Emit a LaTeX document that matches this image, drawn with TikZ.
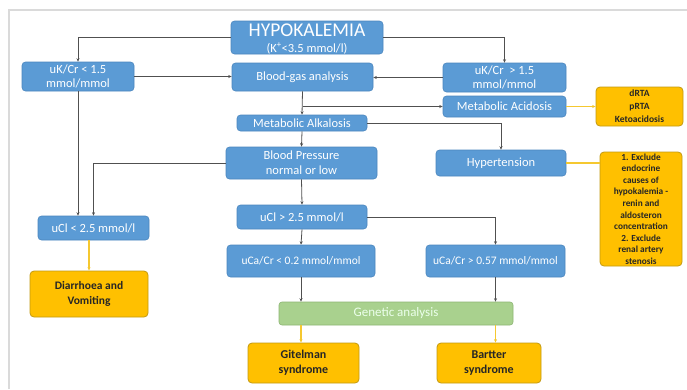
\documentclass[tikz,border=0pt]{standalone}
\usepackage{fontspec}
\setmainfont{Carlito}
\usetikzlibrary{arrows.meta,calc}
\definecolor{bfill}{HTML}{5B9BD5}
\definecolor{bline}{HTML}{4A86BE}
\definecolor{ofill}{HTML}{FFC000}
\definecolor{oline}{HTML}{C39A12}
\definecolor{gfill}{HTML}{A9D18E}
\definecolor{gline}{HTML}{8DB574}
\definecolor{conn}{HTML}{505050}
\definecolor{yconn}{HTML}{F5C830}
\definecolor{frame}{HTML}{DADADA}
\tikzset{
  bbox/.style={draw=bline, line width=0.6pt, fill=bfill, rounded corners=3.5pt, text=white, align=center, inner sep=1pt, font=\fontsize{12.5}{14.5}\selectfont},
  obox/.style={draw=oline, line width=0.8pt, fill=ofill, rounded corners=4pt, text=black!85, align=center, inner sep=1pt, font=\bfseries\fontsize{12}{15}\selectfont},
  gbox/.style={draw=gline, line width=0.6pt, fill=gfill, rounded corners=3pt, text=white!92!green, align=center, inner sep=1pt, font=\fontsize{13}{14}\selectfont},
  arr/.style={draw=conn, line width=0.8pt, -{Stealth[length=3.5pt,width=3pt]}},
  ln/.style={draw=conn, line width=0.8pt},
  yarr/.style={draw=yconn, line width=1.2pt, -{Stealth[length=3.5pt,width=3pt]}},
  yln/.style={draw=yconn, line width=1.2pt},
}
\begin{document}
\begin{tikzpicture}[x=1pt,y=-1pt]
\useasboundingbox (0,0) rectangle (687,389);
\fill[white] (0,0) rectangle (687,389);
\draw[frame, line width=1.5pt] (9,389) -- (9,10) -- (687,10);

\node[bbox, minimum width=152pt, minimum height=33pt] (hypo) at (307,37.5) {};
\node[text=white, font=\fontsize{19.5}{20}\selectfont] at (307,30.5) {HYPOKALEMIA};
\node[text=white, font=\fontsize{12.5}{13}\selectfont] at (307,48.5) {(K\textsuperscript{+}<3.5 mmol/l)};

\node[bbox, minimum width=141pt, minimum height=28pt] (bga) at (302.5,77) {Blood-gas analysis};
\node[bbox, minimum width=130pt, minimum height=16pt] (alk) at (302,123) {Metabolic Alkalosis};
\node[bbox, minimum width=112pt, minimum height=29pt] (ukl) at (78,76.5) {uK/Cr < 1.5\\mmol/mmol};
\node[bbox, minimum width=123pt, minimum height=29pt] (ukh) at (504.5,77.5) {uK/Cr \ > 1.5\\mmol/mmol};
\node[bbox, minimum width=123pt, minimum height=21pt] (acid) at (504.5,106.5) {Metabolic Acidosis};
\node[obox, minimum width=87pt, minimum height=39pt, font=\bfseries\fontsize{9.5}{13}\selectfont] (drta) at (639.5,106.5) {dRTA\\pRTA\\Ketoacidosis};
\node[bbox, minimum width=130pt, minimum height=26pt] (hyper) at (501,163) {Hypertension};
\node[obox, minimum width=82pt, minimum height=114pt, font=\bfseries\fontsize{9.3}{11.6}\selectfont] (excl) at (641,209) {1. Exclude\\endocrine\\causes of\\hypokalemia -\\renin and\\aldosteron\\concentration\\2. Exclude\\renal artery\\stenosis};
\node[bbox, minimum width=151pt, minimum height=32pt, font=\fontsize{12.5}{15}\selectfont] (bp) at (301.5,163) {Blood Pressure\\normal or low};
\node[bbox, minimum width=111pt, minimum height=24pt] (ucll) at (93.5,228) {uCl < 2.5 mmol/l};
\node[obox, minimum width=118pt, minimum height=46pt, font=\bfseries\fontsize{11.5}{15}\selectfont] (diar) at (89,294) {Diarrhoea and\\Vomiting};
\node[bbox, minimum width=130pt, minimum height=24pt] (uclh) at (302,217) {uCl > 2.5 mmol/l};
\node[bbox, minimum width=148pt, minimum height=32pt, font=\fontsize{11.5}{13}\selectfont] (ucal) at (301,261) {uCa/Cr < 0.2 mmol/mmol};
\node[bbox, minimum width=139pt, minimum height=32pt, font=\fontsize{11.5}{13}\selectfont] (ucah) at (495.5,261) {uCa/Cr > 0.57 mmol/mmol};
\node[gbox, minimum width=234pt, minimum height=23pt] (gen) at (396,313.5) {Genetic analysis};
\node[obox, minimum width=111pt, minimum height=40pt] (git) at (303.5,363) {Gitelman\\syndrome};
\node[obox, minimum width=104pt, minimum height=40pt] (bar) at (489,363) {Bartter\\syndrome};

% connectors
\draw[arr] (hypo.west) -| (ukl.north);
\draw[arr] (hypo.east) -| (ukh.north);
\draw[arr] (ukl.east) -- (ukl.east -| bga.west);
\draw[arr] (ukh.west) -- (ukh.west -| bga.east);
\draw[arr] (bga.south) -- (alk.north);
\draw[arr] (bga.south |- acid.west) -- (acid.west);
\draw[arr] (alk.east) -| (hyper.north);
\draw[yarr] (acid.east) -- (acid.east -| drta.west);
\draw[yln] (hyper.east) -- (hyper.east -| excl.west);
\draw[arr] (ukl.south) -- (ukl.south |- ucll.north);
\draw[arr] (bp.west) -| (ucll.north);
\draw[arr] (alk.south) -- (bp.north);
\draw[arr] (bp.south) -- (uclh.north);
\draw[arr] (uclh.south) -- (ucal.north);
\draw[arr] (uclh.east) -| (ucah.north);
\draw[yarr] (ucll.south -| diar.north) -- (diar.north);
\draw[arr] (ucal.south) -- (ucal.south |- gen.north);
\draw[arr] (ucah.south) -- (ucah.south |- gen.north);
\draw[yarr] (ucal.south |- gen.south) -- (ucal.south |- git.north);
\draw[yarr] (ucah.south |- gen.south) -- (ucah.south |- bar.north);
\end{tikzpicture}
\end{document}
